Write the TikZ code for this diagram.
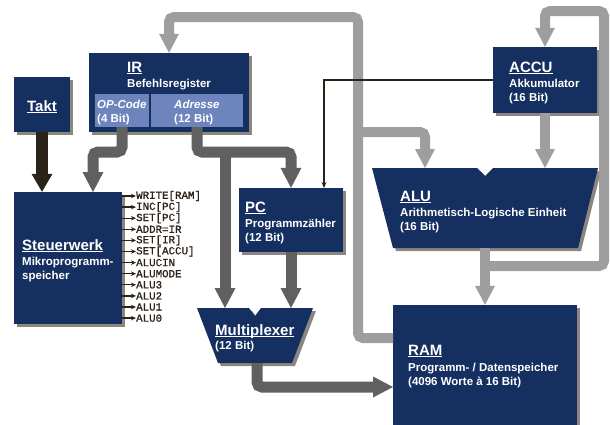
\documentclass[tikz,border=0pt]{standalone}
\usepackage{fontspec}
\setmainfont{Liberation Sans}
\setmonofont{Liberation Mono}
\newfontfamily\sigfont{Liberation Mono}[FakeBold=1.2]
\usetikzlibrary{arrows.meta,shadows}
\definecolor{navy}{RGB}{21,48,96}
\definecolor{subblue}{RGB}{110,132,188}
\definecolor{darkg}{RGB}{96,96,96}
\definecolor{lightg}{RGB}{158,158,158}
\definecolor{shadowc}{RGB}{140,134,128}
\definecolor{brownc}{RGB}{43,34,25}
\newcommand\myul[1]{\setbox0\hbox{#1}\leavevmode\rlap{\rule[-2.4pt]{\wd0}{1.4pt}}\box0}
\begin{document}
\begin{tikzpicture}[x=1pt,y=-1pt,
  shad/.style={drop shadow={shadow xshift=3pt,shadow yshift=-3pt,fill=shadowc,opacity=1}},
  blk/.style={fill=navy,draw=none,inner sep=0pt,shad},
  subbox/.style={fill=subblue,draw=none,inner sep=0pt},
  ttl/.style={anchor=base west,inner sep=0pt,text=white,font=\fontsize{15}{18}\selectfont\bfseries},
  stl/.style={anchor=base west,inner sep=0pt,text=white,font=\fontsize{11.5}{14}\selectfont\bfseries},
  lbl/.style={anchor=west,inner sep=0pt,text=brownc,font=\fontsize{10.8}{12}\selectfont\sigfont},
  darr/.style={draw=darkg,line width=11pt,rounded corners=5pt,-{Triangle[width=21pt,length=20pt,line width=0pt]}},
  larr/.style={draw=lightg,line width=10pt,rounded corners=5pt,-{Triangle[width=20pt,length=19pt,line width=0pt]}},
  tarr/.style={draw=brownc,line width=12pt,-{Triangle[width=21pt,length=18pt,line width=0pt]}},
  thin/.style={draw=brownc,line width=1.2pt,-{Stealth[length=6pt,width=5pt]}},
  sig/.style={draw=brownc,line width=1.3pt,-{Stealth[length=5pt,width=4.5pt]}}]
\useasboundingbox (0,0) rectangle (610,424);

% boxes
\node[blk,minimum width=56pt,minimum height=55pt] (takt) at (42,104.5) {};
\node[blk,minimum width=160pt,minimum height=79pt] (ir) at (169,92.5) {};
\node[subbox,minimum width=54pt,minimum height=33pt] (opc) at (122,110.5) {};
\node[subbox,minimum width=92pt,minimum height=33pt] (adr) at (197,110.5) {};
\node[blk,minimum width=108pt,minimum height=132pt] (sw) at (68,258) {};
\node[blk,minimum width=104pt,minimum height=64pt] (pc) at (291,220) {};
\node[blk,minimum width=104pt,minimum height=66pt] (accu) at (545,80) {};
\node[blk,minimum width=184pt,minimum height=124pt] (ram) at (485,367) {};
\fill[navy,shad] (197,308) -- (249,308) -- (255,316) -- (261,308) -- (313,308) -- (292,363) -- (218,363) -- cycle;
\fill[navy,shad] (372,168) -- (477,168) -- (485,176) -- (493,168) -- (598,168) -- (578,248) -- (393,248) -- cycle;

% named coordinates
\coordinate (swin) at (93,192);
\coordinate (opbend) at (93,152);
\coordinate (pcbend) at (291,152);
\coordinate (adrbr) at (225,152);
\coordinate (muxinL) at (225,308);
\coordinate (muxinR) at (291,308);
\coordinate (muxout) at (257,363);
\coordinate (ramin) at (393,387);
\coordinate (rambus) at (393,338);
\coordinate (bustop) at (358,17);
\coordinate (busbr) at (358,132);
\coordinate (alinL) at (425,168);
\coordinate (alinR) at (545,168);
\coordinate (aluout) at (485,248);
\coordinate (alubr) at (485,266);
\coordinate (rloop) at (604,11);
\coordinate (pcin) at (324,188);

% connectors
\draw[tarr] (takt.south) -- (takt.south |- sw.north);
\draw[darr] (opc.south) |- (opbend) -- (swin);
\draw[darr] (adr.south) |- (pcbend) -- (pc.north);
\draw[darr] (adrbr) -- (muxinL);
\draw[darr] (pc.south) -- (muxinR);
\draw[darr] (muxout) |- (ramin);
\draw[larr] (rambus) -| (bustop) -| (ir.north);
\draw[larr] (busbr) -| (alinL);
\draw[larr] (accu.south) -- (alinR);
\draw[larr] (aluout) -- (ram.north);
\draw[larr] (alubr) -| (rloop) -| (accu.north);
\draw[thin] (accu.west) -| (pcin);

% texts
\node[ttl,anchor=base] (taktT) at (42,111) {\myul{Takt}};
\node[ttl] (irT) at (127,72) {\myul{IR}};
\node[stl] (irS) at (127,87) {Befehlsregister};
\node[stl,font=\fontsize{11.5}{14}\selectfont\bfseries\itshape] (opT) at (97,108) {OP-Code};
\node[stl] (opS) at (97,122) {(4 Bit)};
\node[stl,font=\fontsize{11.5}{14}\selectfont\bfseries\itshape] (adT) at (174,108) {Adresse};
\node[stl] (adS) at (174,122) {(12 Bit)};
\node[ttl] (swT) at (22,250) {\myul{Steuerwerk}};
\node[stl] (swS1) at (22,265) {Mikroprogramm-};
\node[stl] (swS2) at (22,279) {speicher};
\node[ttl] (pcT) at (245,212) {\myul{PC}};
\node[stl] (pcS1) at (245,227) {Programmzähler};
\node[stl] (pcS2) at (245,241) {(12 Bit)};
\node[ttl] (acT) at (509,72) {\myul{ACCU}};
\node[stl] (acS1) at (509,87) {Akkumulator};
\node[stl] (acS2) at (509,101) {(16 Bit)};
\node[ttl] (alT) at (400,201) {\myul{ALU}};
\node[stl] (alS1) at (400,216) {Arithmetisch-Logische Einheit};
\node[stl] (alS2) at (400,230) {(16 Bit)};
\node[ttl] (mxT) at (215,335) {\myul{Multiplexer}};
\node[stl] (mxS) at (215,349) {(12 Bit)};
\node[ttl] (raT) at (408,355) {\myul{RAM}};
\node[stl] (raS1) at (408,371) {Programm- / Datenspeicher};
\node[stl] (raS2) at (408,385) {(4096 Worte à 16 Bit)};

% control signals
\foreach \t [count=\i from 0] in {WRITE[RAM],INC[PC],SET[PC],ADDR=IR,SET[IR],SET[ACCU],ALUCIN,ALUMODE,ALU3,ALU2,ALU1,ALU0}{
  \node[lbl] (s\i) at (136,196+11.1*\i) {\t};
  \draw[sig] (sw.east |- s\i.west) -- (s\i.west);
}
\end{tikzpicture}
\end{document}
